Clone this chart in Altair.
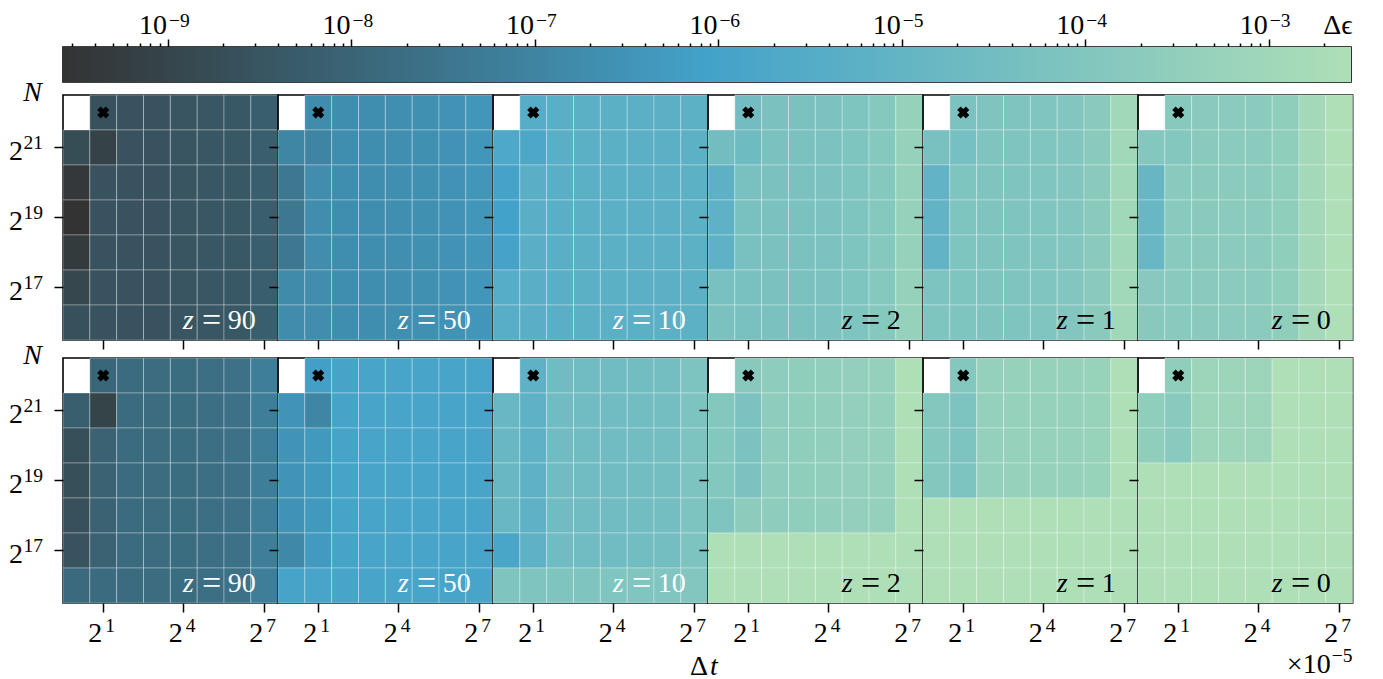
import altair as alt
import pandas as pd

NAN = float("nan")
G = -2.55  # saturated (light green) cells, at the top of the colour range

# ---------------- axes / categories ----------------
dt_exp = [0, 1, 2, 3, 4, 5, 6, 7]          # Δt = 2^k  (×10^-5)
n_exp = [22, 21, 20, 19, 18, 17, 16]       # N = 2^k, top to bottom
z_values = [90, 50, 10, 2, 1, 0]
marker_dt, marker_n = 1, 22
x_tick_exp = [1, 4, 7]
y_tick_exp = [21, 19, 17]
cb_decades = [-9, -8, -7, -6, -5, -4, -3]

# ---------------- log10(Δε) per panel (rows: N=2^22 .. 2^16, cols: Δt=2^0 .. 2^7) ----------------
top_z90 = [
    [NAN, -8.60, -8.55, -8.55, -8.50, -8.45, -8.40, -8.20],
    [-8.75, -9.10, -8.55, -8.55, -8.50, -8.45, -8.40, -8.20],
    [-9.40, -8.55, -8.55, -8.55, -8.50, -8.45, -8.40, -8.20],
    [-9.57, -8.55, -8.55, -8.55, -8.50, -8.45, -8.40, -8.20],
    [-9.33, -8.55, -8.55, -8.55, -8.50, -8.45, -8.40, -8.20],
    [-8.95, -8.55, -8.55, -8.55, -8.50, -8.45, -8.40, -8.20],
    [-8.62, -8.55, -8.55, -8.55, -8.50, -8.45, -8.40, -8.20],
]
top_z50 = [
    [NAN, -6.75, -6.70, -6.68, -6.65, -6.62, -6.58, -6.45],
    [-6.95, -7.00, -6.70, -6.68, -6.65, -6.62, -6.58, -6.45],
    [-7.40, -6.72, -6.70, -6.68, -6.65, -6.62, -6.58, -6.45],
    [-7.42, -6.72, -6.70, -6.68, -6.65, -6.62, -6.58, -6.45],
    [-7.40, -6.72, -6.70, -6.68, -6.65, -6.62, -6.58, -6.45],
    [-6.80, -6.72, -6.70, -6.68, -6.65, -6.62, -6.58, -6.45],
    [-6.75, -6.72, -6.70, -6.68, -6.65, -6.62, -6.58, -6.45],
]
top_z10 = [
    [NAN, -5.45, -5.30, -5.28, -5.27, -5.26, -5.25, -5.22],
    [-5.70, -5.72, -5.30, -5.28, -5.27, -5.26, -5.25, -5.22],
    [-6.00, -5.32, -5.30, -5.28, -5.27, -5.26, -5.25, -5.22],
    [-6.06, -5.32, -5.30, -5.28, -5.27, -5.26, -5.25, -5.22],
    [-6.00, -5.32, -5.30, -5.28, -5.27, -5.26, -5.25, -5.22],
    [-5.45, -5.32, -5.30, -5.28, -5.27, -5.26, -5.25, -5.22],
    [-5.40, -5.32, -5.30, -5.28, -5.27, -5.26, -5.25, -5.22],
]
top_z2 = [
    [NAN, -4.50, -4.27, -4.25, -4.22, -4.12, -3.90, -3.38],
    [-4.48, -4.65, -4.27, -4.25, -4.22, -4.12, -3.90, -3.38],
    [-5.18, -4.28, -4.27, -4.25, -4.22, -4.12, -3.90, -3.38],
    [-5.15, -4.28, -4.27, -4.25, -4.22, -4.12, -3.90, -3.38],
    [-5.15, -4.28, -4.27, -4.25, -4.22, -4.12, -3.90, -3.38],
    [-4.28, -4.28, -4.27, -4.25, -4.22, -4.12, -3.90, -3.38],
    [-4.25, -4.28, -4.27, -4.25, -4.22, -4.12, -3.90, -3.38],
]
top_z1 = [
    [NAN, -4.20, -4.10, -4.08, -4.05, -4.00, -3.75, -2.98],
    [-4.30, -4.35, -4.10, -4.08, -4.05, -4.00, -3.75, -2.98],
    [-5.08, -4.12, -4.10, -4.08, -4.05, -4.00, -3.75, -2.98],
    [-5.05, -4.12, -4.10, -4.08, -4.05, -4.00, -3.75, -2.98],
    [-5.05, -4.12, -4.10, -4.08, -4.05, -4.00, -3.75, -2.98],
    [-4.15, -4.12, -4.10, -4.08, -4.05, -4.00, -3.75, -2.98],
    [-4.12, -4.12, -4.10, -4.08, -4.05, -4.00, -3.75, -2.98],
]
top_z0 = [
    [NAN, -3.80, -3.75, -3.73, -3.70, -3.55, -2.92, -2.55],
    [-3.95, -3.95, -3.75, -3.73, -3.70, -3.55, -2.92, -2.55],
    [-4.90, -3.78, -3.75, -3.73, -3.70, -3.55, -2.92, -2.55],
    [-4.88, -3.78, -3.75, -3.73, -3.70, -3.55, -2.92, -2.55],
    [-4.88, -3.78, -3.75, -3.73, -3.70, -3.55, -2.92, -2.55],
    [-3.82, -3.78, -3.75, -3.73, -3.70, -3.55, -2.92, -2.55],
    [-3.80, -3.78, -3.75, -3.73, -3.70, -3.55, -2.92, -2.55],
]
bot_z90 = [
    [NAN, -7.95, -7.80, -7.78, -7.75, -7.70, -7.60, -7.20],
    [-8.17, -9.05, -7.80, -7.78, -7.75, -7.70, -7.60, -7.20],
    [-8.70, -8.10, -7.80, -7.78, -7.75, -7.70, -7.60, -7.20],
    [-8.70, -8.10, -7.80, -7.78, -7.75, -7.70, -7.60, -7.20],
    [-8.65, -8.10, -7.80, -7.78, -7.75, -7.70, -7.60, -7.20],
    [-8.55, -8.10, -7.80, -7.78, -7.75, -7.70, -7.60, -7.20],
    [-7.85, -7.80, -7.80, -7.78, -7.75, -7.70, -7.60, -7.20],
]
bot_z50 = [
    [NAN, -6.15, -5.92, -5.90, -5.90, -5.90, -5.90, -5.90],
    [-6.50, -6.94, -5.92, -5.90, -5.90, -5.90, -5.90, -5.90],
    [-6.52, -6.34, -5.92, -5.90, -5.90, -5.90, -5.90, -5.90],
    [-6.52, -6.34, -5.92, -5.90, -5.90, -5.90, -5.90, -5.90],
    [-6.55, -6.34, -5.92, -5.90, -5.90, -5.90, -5.90, -5.90],
    [-6.87, -6.30, -5.92, -5.90, -5.90, -5.90, -5.90, -5.90],
    [-5.95, -5.90, -5.90, -5.90, -5.90, -5.90, -5.90, -5.90],
]
bot_z10 = [
    [NAN, -5.15, -4.58, -4.55, -4.55, -4.52, -4.45, -4.15],
    [-4.83, -5.15, -4.58, -4.55, -4.55, -4.52, -4.45, -4.15],
    [-4.83, -5.15, -4.58, -4.55, -4.55, -4.52, -4.45, -4.15],
    [-4.83, -5.15, -4.58, -4.55, -4.55, -4.52, -4.45, -4.15],
    [-4.85, -5.15, -4.58, -4.55, -4.55, -4.52, -4.45, -4.15],
    [-5.85, -5.15, -4.58, -4.55, -4.55, -4.52, -4.45, -4.15],
    [-4.10, -4.10, -4.08, -4.08, -4.07, -4.06, -4.05, -4.00],
]
bot_z2 = [
    [NAN, -3.80, -3.60, -3.55, -3.50, -3.45, -3.40, G],
    [-3.96, -4.24, -3.60, -3.55, -3.50, -3.45, -3.40, G],
    [-3.96, -4.24, -3.60, -3.55, -3.50, -3.45, -3.40, G],
    [-3.96, -4.24, -3.60, -3.55, -3.50, -3.45, -3.40, G],
    [-4.10, -3.65, -3.60, -3.55, -3.50, -3.45, -3.40, G],
    [G, G, G, G, G, G, G, G],
    [G, G, G, G, G, G, G, G],
]
bot_z1 = [
    [NAN, -3.96, -3.40, -3.38, -3.36, -3.34, -3.30, G],
    [-3.96, -4.16, -3.40, -3.38, -3.36, -3.34, -3.30, G],
    [-3.96, -4.16, -3.40, -3.38, -3.36, -3.34, -3.30, G],
    [-3.96, -4.16, -3.40, -3.38, -3.36, -3.34, -3.30, G],
    [G, G, G, G, G, G, G, G],
    [G, G, G, G, G, G, G, G],
    [G, G, G, G, G, G, G, G],
]
bot_z0 = [
    [NAN, -3.53, -3.15, -3.12, -3.10, G, G, G],
    [-3.53, -3.78, -3.15, -3.12, -3.10, G, G, G],
    [-3.53, -3.78, -3.15, -3.12, -3.10, G, G, G],
    [G, G, G, G, G, G, G, G],
    [G, G, G, G, G, G, G, G],
    [G, G, G, G, G, G, G, G],
    [G, G, G, G, G, G, G, G],
]
top_panels = [top_z90, top_z50, top_z10, top_z2, top_z1, top_z0]
bot_panels = [bot_z90, bot_z50, bot_z10, bot_z2, bot_z1, bot_z0]

# ---------------- colour map ----------------
LOG_MIN, LOG_MAX = -9.572, -2.552
VMIN, VMAX = 10 ** LOG_MIN, 10 ** LOG_MAX
VMID = 10 ** ((LOG_MIN + LOG_MAX) / 2)
CMAP = ["#333333", "#43a2ca", "#aedfb7"]

FONT = "Liberation Serif"
FS, EXP_FS = 28, 19.5
PW = 1288 / 6
PH = 245

color_scale = alt.Scale(type="log", domain=[VMIN, VMID, VMAX], range=CMAP,
                        interpolate="rgb", clamp=True, nice=False)


def txt(df, **kw):
    base = dict(font=FONT, color="black", baseline="alphabetic")
    base.update(kw)
    return alt.Chart(df).mark_text(**base)


def panel(grid, z, row, col):
    recs = []
    for i, n in enumerate(n_exp):
        for j, d in enumerate(dt_exp):
            v = grid[i][j]
            if v == v:
                recs.append({"dt": d, "n": n, "de": 10 ** v})
    df = pd.DataFrame(recs)

    xaxis = alt.Axis(values=x_tick_exp, labels=False, title=None)
    ykw = {}
    ytitle = None
    if col == 0:
        ytitle = "N"
        ykw = dict(titleAngle=0, titleX=-31, titleY=5, titleAlign="center",
                   titleBaseline="alphabetic", titleFontStyle="italic", titleFontSize=FS)
    yaxis = alt.Axis(values=y_tick_exp, labels=False, title=ytitle, **ykw)

    x = alt.X("dt:O", scale=alt.Scale(domain=dt_exp, paddingInner=0, paddingOuter=0), axis=xaxis)
    y = alt.Y("n:O", scale=alt.Scale(domain=n_exp, paddingInner=0, paddingOuter=0), axis=yaxis)

    layers = []
    layers.append(alt.Chart(df).mark_rect(stroke="white", strokeWidth=1, strokeOpacity=0.3).encode(
        x=x, y=y, color=alt.Color("de:Q", scale=color_scale, legend=None)))
    layers.append(alt.Chart(pd.DataFrame({"dt": [marker_dt], "n": [marker_n]})).mark_point(
        shape="cross", angle=45, filled=True, color="black", size=150, opacity=1).encode(x=x, y=y))

    # panel label  z = value
    tcol = "white" if z >= 10 else "black"
    right = PW - 22
    num_left = right - 14 * len(str(z))
    eq_c = num_left - 16
    lab = pd.DataFrame({"zz": ["z"], "eq": ["="], "num": [str(z)]})
    layers.append(txt(lab, align="right", fontSize=FS, color=tcol).encode(
        x=alt.value(right), y=alt.value(PH - 11), text="num:N"))
    layers.append(txt(lab, align="center", fontSize=34, color=tcol).encode(
        x=alt.value(eq_c), y=alt.value(PH - 9), text="eq:N"))
    layers.append(txt(lab, align="right", fontSize=FS, fontStyle="italic", color=tcol).encode(
        x=alt.value(eq_c - 18), y=alt.value(PH - 11), text="zz:N"))

    # tick labels written as base + raised exponent
    if row == 1:
        xl = pd.DataFrame({"dt": x_tick_exp, "b": ["2"] * 3, "e": [str(v) for v in x_tick_exp]})
        layers.append(txt(xl, align="right", fontSize=FS, dx=-1).encode(
            x=x, y=alt.value(PH + 39), text="b:N"))
        layers.append(txt(xl, align="left", fontSize=EXP_FS, dx=2).encode(
            x=x, y=alt.value(PH + 29), text="e:N"))
    if col == 0:
        yl = pd.DataFrame({"n": y_tick_exp, "b": ["2"] * 3, "e": [str(v) for v in y_tick_exp]})
        layers.append(txt(yl, align="right", fontSize=FS, dy=12).encode(
            x=alt.value(-40), y=y, text="b:N"))
        layers.append(txt(yl, align="right", fontSize=EXP_FS, dy=1).encode(
            x=alt.value(-20), y=y, text="e:N"))
    if row == 1 and col == 3:
        t = pd.DataFrame({"d": ["Δ"], "t": ["t"]})
        layers.append(txt(t, align="right", fontSize=FS).encode(
            x=alt.value(0), y=alt.value(PH + 72), text="d:N"))
        layers.append(txt(t, align="left", fontSize=FS, fontStyle="italic").encode(
            x=alt.value(2), y=alt.value(PH + 72), text="t:N"))
    if row == 1 and col == 5:
        t = pd.DataFrame({"m": ["×10"], "e": ["−5"]})
        layers.append(txt(t, align="right", fontSize=FS).encode(
            x=alt.value(PW - 22), y=alt.value(PH + 70), text="m:N"))
        layers.append(txt(t, align="left", fontSize=EXP_FS).encode(
            x=alt.value(PW - 21), y=alt.value(PH + 59), text="e:N"))
    return alt.layer(*layers).properties(width=PW, height=PH)


tops = [panel(g, z, 0, c) for c, (g, z) in enumerate(zip(top_panels, z_values))]
bots = [panel(g, z, 1, c) for c, (g, z) in enumerate(zip(bot_panels, z_values))]

grid = alt.concat(*(tops + bots), columns=6, spacing={"row": 18, "column": 0},
                  bounds="flush").resolve_scale(x="independent", y="independent")

# ---------------- colour bar ----------------
cb_ticks = []
for e in range(-10, -2):
    for m in range(1, 10):
        v = float(f"{m}e{e}")
        if VMIN <= v <= VMAX:
            cb_ticks.append(v)
is_decade = "abs(log(datum.value)/LN10 - round(log(datum.value)/LN10)) < 1e-6"

gradient = {"x1": 0, "y1": 0, "x2": 1, "y2": 0, "gradient": "linear",
            "stops": [{"offset": 0, "color": CMAP[0]},
                      {"offset": 0.5, "color": CMAP[1]},
                      {"offset": 1, "color": CMAP[2]}]}
cb_scale = alt.Scale(type="log", domain=[VMIN, VMAX], nice=False)
cb_df = pd.DataFrame({"lo": [VMIN], "hi": [VMAX]})
cb_rect = alt.Chart(cb_df).mark_rect().encode(
    x=alt.X("lo:Q", scale=cb_scale,
            axis=alt.Axis(orient="top", values=cb_ticks, labels=False, title=None,
                          tickSize={"condition": {"test": is_decade, "value": 8}, "value": 4})),
    x2="hi:Q",
    color=alt.value(gradient),
)
cb_lab_df = pd.DataFrame({"v": [float(f"1e{e}") for e in cb_decades],
                          "b": ["10"] * len(cb_decades),
                          "e": [f"−{-e}" for e in cb_decades]})
cb_base = txt(cb_lab_df, align="right", fontSize=FS, dx=-1).encode(
    x=alt.X("v:Q", scale=cb_scale), y=alt.value(-13), text="b:N")
cb_exp = txt(cb_lab_df, align="left", fontSize=EXP_FS, dx=1).encode(
    x=alt.X("v:Q", scale=cb_scale), y=alt.value(-20), text="e:N")
cb_title = txt(pd.DataFrame({"t": ["Δϵ"]}), align="center", fontSize=FS).encode(
    x=alt.value(1288 - 13), y=alt.value(-13), text="t:N")
colorbar = alt.layer(cb_rect, cb_base, cb_exp, cb_title).properties(width=1288, height=35)

chart = alt.vconcat(colorbar, grid, spacing=13, bounds="flush").resolve_scale(
    x="independent", y="independent").configure_view(
    stroke="black", strokeWidth=1.6).configure_axis(
    labelFont=FONT, titleFont=FONT, labelColor="black", titleColor="black",
    titleFontWeight="normal", tickColor="black", tickWidth=1.5, tickSize=9, domain=False,
    grid=False).properties(padding={"left": 0, "top": 2, "right": 5, "bottom": 0})

chart.save("out.html", embed_options={"renderer": "svg", "actions": False})
